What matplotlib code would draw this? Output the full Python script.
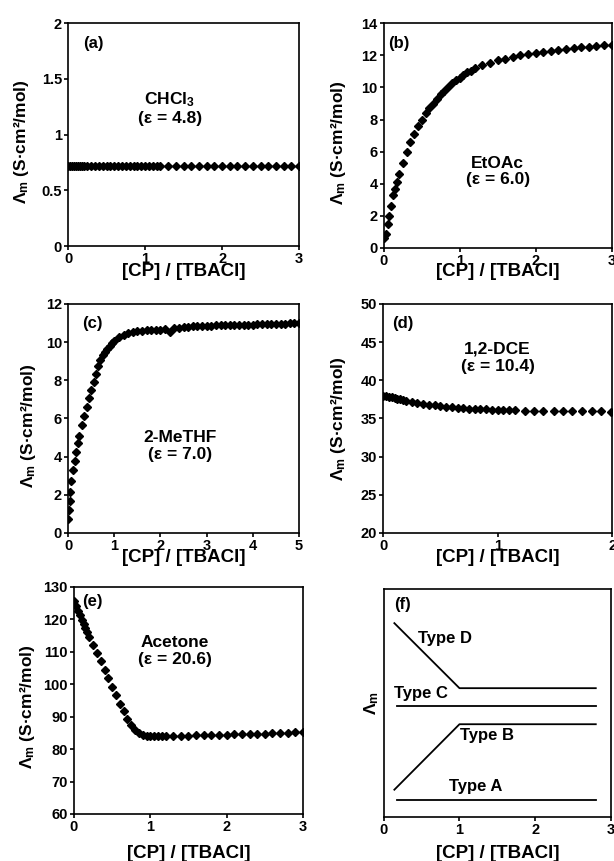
# -*- coding: utf-8 -*-
"""
Molar conductivity vs [CP]/[TBACl] in five solvents plus a sketch of the
four titration curve types (a)-(f).
"""

import matplotlib
matplotlib.use("Agg")
import matplotlib.pyplot as plt

#------------------------------------------------------------------------------
#Fonts: bold Arial-like everywhere, mathtext set to the same family

plt.rcParams['font.family'] = ['Liberation Sans', 'DejaVu Sans']
plt.rcParams['font.weight'] = 'bold'
plt.rcParams['mathtext.fontset'] = 'custom'
plt.rcParams['mathtext.rm'] = 'Liberation Sans:bold'
plt.rcParams['mathtext.it'] = 'Liberation Sans:italic:bold'
plt.rcParams['mathtext.bf'] = 'Liberation Sans:bold'
plt.rcParams['axes.linewidth'] = 1.2

TICK_FS = 10.5                                                                 #tick label size
XLAB_FS = 13.5                                                                 #[CP] / [TBACl]
YLAB_FS = 12.5                                                                 #molar conductivity label
NOTE_FS = 12.5                                                                 #solvent names in the panels
LET_FS = 12                                                                    #(a), (b) ...

#------------------------------------------------------------------------------
#Data

x_dense = [0.0, 0.025, 0.05, 0.075, 0.1, 0.125, 0.15, 0.175, 0.2, 0.25, 0.3,
           0.35, 0.4, 0.45, 0.5, 0.55, 0.6, 0.65, 0.7, 0.75, 0.8, 0.85, 0.9,
           0.95, 1.0, 1.05, 1.1, 1.15]
x_sparse = [1.2, 1.3, 1.4, 1.5, 1.6, 1.7, 1.8, 1.9, 2.0, 2.1, 2.2, 2.3, 2.4,
            2.5, 2.6, 2.7, 2.8, 2.9, 3.0]

#(a) CHCl3
chcl3_dense = [0.72, 0.72, 0.72, 0.72, 0.72, 0.72, 0.72, 0.72, 0.72, 0.72,
               0.72, 0.72, 0.72, 0.72, 0.72, 0.72, 0.72, 0.72, 0.72, 0.72,
               0.72, 0.72, 0.72, 0.72, 0.72, 0.72, 0.72, 0.72]
chcl3_sparse = [0.72, 0.72, 0.72, 0.72, 0.72, 0.72, 0.72, 0.72, 0.72, 0.72,
                0.72, 0.72, 0.72, 0.72, 0.72, 0.72, 0.72, 0.72, 0.72]

#(b) EtOAc
etoac_dense = [0.65, 0.9, 1.5, 2.0, 2.6, 3.3, 3.7, 4.1, 4.6, 5.3, 6.0, 6.6,
               7.1, 7.6, 8.0, 8.4, 8.7, 9.0, 9.3, 9.6, 9.8, 10.0, 10.25,
               10.45, 10.6, 10.8, 10.95, 11.05]
etoac_sparse = [11.2, 11.4, 11.55, 11.7, 11.8, 11.9, 12.0, 12.1, 12.15, 12.2,
                12.3, 12.35, 12.4, 12.45, 12.5, 12.55, 12.6, 12.62, 12.65]

#(c) 2-MeTHF
x_methf = [0.0, 0.015, 0.03, 0.05, 0.07, 0.1, 0.14, 0.16, 0.21, 0.245, 0.3,
           0.35, 0.4, 0.45, 0.5, 0.55, 0.6, 0.65, 0.7, 0.75, 0.8, 0.85, 0.9,
           0.95, 1.0, 1.1, 1.2, 1.3, 1.4, 1.5, 1.6, 1.7, 1.8, 1.9, 2.0, 2.1,
           2.2, 2.3, 2.4, 2.5, 2.6, 2.7, 2.8, 2.9, 3.0, 3.1, 3.2, 3.3, 3.4,
           3.5, 3.6, 3.7, 3.8, 3.9, 4.0, 4.1, 4.2, 4.3, 4.4, 4.5, 4.6, 4.7,
           4.8, 4.9, 5.0]
methf = [0.75, 1.2, 1.65, 2.15, 2.7, 3.3, 3.75, 4.25, 4.7, 5.1, 5.65, 6.15,
         6.6, 7.05, 7.5, 7.9, 8.35, 8.75, 9.05, 9.3, 9.5, 9.65, 9.8, 9.95,
         10.05, 10.25, 10.38, 10.47, 10.53, 10.58, 10.6, 10.62, 10.64, 10.65,
         10.66, 10.67, 10.55, 10.74, 10.76, 10.78, 10.8, 10.82, 10.83, 10.84,
         10.85, 10.86, 10.87, 10.88, 10.88, 10.89, 10.9, 10.9, 10.91, 10.92,
         10.92, 10.93, 10.94, 10.95, 10.95, 10.96, 10.97, 10.97, 10.98, 10.99,
         11.0]

#(d) 1,2-DCE
dce_dense = [38.0, 37.9, 37.85, 37.8, 37.7, 37.6, 37.5, 37.4, 37.3, 37.15,
             37.0, 36.9, 36.8, 36.7, 36.6, 36.55, 36.5, 36.4, 36.35, 36.3,
             36.25, 36.2, 36.2, 36.15, 36.15, 36.1, 36.1, 36.1]
x_dce_sparse = [1.24, 1.32, 1.4, 1.49, 1.57, 1.65, 1.74, 1.82, 1.9, 1.99]
dce_sparse = [36.0, 36.0, 36.0, 35.98, 35.97, 35.95, 35.94, 35.93, 35.92,
              35.9]

#(e) Acetone
acetone_dense = [125.5, 124.0, 122.5, 121.2, 119.8, 118.5, 117.2, 115.9,
                 114.6, 112.0, 109.5, 107.0, 104.4, 101.8, 99.2, 96.6, 94.0,
                 91.6, 89.4, 87.5, 86.0, 85.0, 84.4, 84.1, 84.0, 83.9, 83.9,
                 83.9]
acetone_sparse = [84.0, 84.05, 84.1, 84.15, 84.2, 84.25, 84.3, 84.35, 84.4,
                  84.5, 84.55, 84.6, 84.7, 84.75, 84.85, 84.9, 85.0, 85.1,
                  85.2]

#(f) schematic curve types
type_d_x = [0.14, 1.0, 2.8]
type_d_y = [8.5, 5.65, 5.65]
type_c_x = [0.18, 2.8]
type_c_y = [4.85, 4.85]
type_b_x = [0.14, 1.0, 2.8]
type_b_y = [1.2, 4.07, 4.07]
type_a_x = [0.18, 2.8]
type_a_y = [0.77, 0.77]

#------------------------------------------------------------------------------
#Figure and axes placed to match the reference layout

fig = plt.figure(figsize=(6.14, 8.61), dpi=100)

ax_a = fig.add_axes([0.111, 0.714, 0.376, 0.259])
ax_b = fig.add_axes([0.625, 0.712, 0.371, 0.261])
ax_c = fig.add_axes([0.111, 0.381, 0.376, 0.266])
ax_d = fig.add_axes([0.624, 0.381, 0.373, 0.266])
ax_e = fig.add_axes([0.1205, 0.0546, 0.373, 0.264])
ax_f = fig.add_axes([0.625, 0.051, 0.370, 0.265])

ylab = r'$\mathit{\Lambda}_{\mathrm{m}}$ (S·cm²/mol)'
xlab = '[CP] / [TBACl]'
mk = dict(marker='D', color='black', markersize=4.4, linestyle='none')


def style(ax, xlim, ylim, xticks, yticks, xlab_y, ylab_x, ylab_y=0.47):
    ax.set_xlim(*xlim)
    ax.set_ylim(*ylim)
    ax.set_xticks(xticks)
    ax.set_yticks(yticks)
    ax.set_yticklabels(['%g' % v for v in yticks])
    ax.tick_params(direction='out', length=3, width=1.2, labelsize=TICK_FS,
                   top=False, right=False)
    ax.tick_params(axis='y', pad=1.5)
    ax.tick_params(axis='x', pad=1.5)
    ax.set_xlabel(xlab, fontsize=XLAB_FS, fontweight='bold')
    ax.xaxis.label.set_va('center')
    ax.xaxis.set_label_coords(0.5, xlab_y)
    ax.set_ylabel(ylab, fontsize=YLAB_FS, fontweight='bold')
    ax.yaxis.label.set_va('center')
    ax.yaxis.set_label_coords(ylab_x, ylab_y)


def note(ax, x, y, s):
    ax.text(x, y, s, transform=ax.transAxes, fontsize=NOTE_FS, ha='center',
            va='center', linespacing=1.15)


def letter(ax, x, y, s):
    ax.text(x, y, s, transform=ax.transAxes, fontsize=LET_FS, va='center')


#(a)
ax_a.plot(x_dense, chcl3_dense, **mk)
ax_a.plot(x_sparse, chcl3_sparse, **mk)
style(ax_a, (0, 3), (0, 2), [0, 1, 2, 3], [0, 0.5, 1, 1.5, 2], -0.115, -0.2)
letter(ax_a, 0.065, 0.907, '(a)')
note(ax_a, 0.44, 0.62, 'CHCl$_3$\n(ε = 4.8)')

#(b)
ax_b.plot(x_dense, etoac_dense, **mk)
ax_b.plot(x_sparse, etoac_sparse, **mk)
style(ax_b, (0, 3), (0, 14), [0, 1, 2, 3], [0, 2, 4, 6, 8, 10, 12, 14],
      -0.105, -0.2)
letter(ax_b, 0.02, 0.908, '(b)')
note(ax_b, 0.5, 0.34, 'EtOAc\n(ε = 6.0)')

#(c)
ax_c.plot(x_methf, methf, **mk)
style(ax_c, (0, 5), (0, 12), [0, 1, 2, 3, 4, 5], [0, 2, 4, 6, 8, 10, 12],
      -0.105, -0.17)
letter(ax_c, 0.06, 0.915, '(c)')
note(ax_c, 0.486, 0.38, '2-MeTHF\n(ε = 7.0)')

#(d)
ax_d.plot(x_dense, dce_dense, **mk)
ax_d.plot(x_dce_sparse, dce_sparse, **mk)
style(ax_d, (0, 2), (20, 50), [0, 1, 2], [20, 25, 30, 35, 40, 45, 50],
      -0.109, -0.197, 0.5)
letter(ax_d, 0.04, 0.915, '(d)')
note(ax_d, 0.5, 0.765, '1,2-DCE\n(ε = 10.4)')

#(e)
ax_e.plot(x_dense, acetone_dense, **mk)
ax_e.plot(x_sparse, acetone_sparse, **mk)
style(ax_e, (0, 3), (60, 130), [0, 1, 2, 3],
      [60, 70, 80, 90, 100, 110, 120, 130], -0.172, -0.205)
letter(ax_e, 0.036, 0.934, '(e)')
note(ax_e, 0.44, 0.716, 'Acetone\n(ε = 20.6)')

#(f) schematic, no y ticks
for xs, ys in [(type_d_x, type_d_y), (type_c_x, type_c_y),
               (type_b_x, type_b_y), (type_a_x, type_a_y)]:
    ax_f.plot(xs, ys, color='black', linewidth=1.3)
ax_f.set_xlim(0, 3)
ax_f.set_ylim(0, 10)
ax_f.set_xticks([0, 1, 2, 3])
ax_f.set_yticks([])
ax_f.tick_params(direction='out', length=3, width=1.2, labelsize=TICK_FS,
                 pad=1.5)
ax_f.set_xlabel(xlab, fontsize=XLAB_FS, fontweight='bold')
ax_f.xaxis.label.set_va('center')
ax_f.xaxis.set_label_coords(0.5, -0.158)
ax_f.set_ylabel(r'$\mathit{\Lambda}_{\mathrm{m}}$', fontsize=YLAB_FS)
ax_f.yaxis.label.set_va('center')
ax_f.yaxis.set_label_coords(-0.053, 0.5)
ax_f.text(0.14, 9.3, '(f)', fontsize=LET_FS, va='center')
ax_f.text(0.815, 7.83, 'Type D', fontsize=12, ha='center', va='center')
ax_f.text(0.137, 5.42, 'Type C', fontsize=12, ha='left', va='center')
ax_f.text(1.37, 3.56, 'Type B', fontsize=12, ha='center', va='center')
ax_f.text(1.21, 1.32, 'Type A', fontsize=12, ha='center', va='center')

fig.savefig('out.png', dpi=100)
